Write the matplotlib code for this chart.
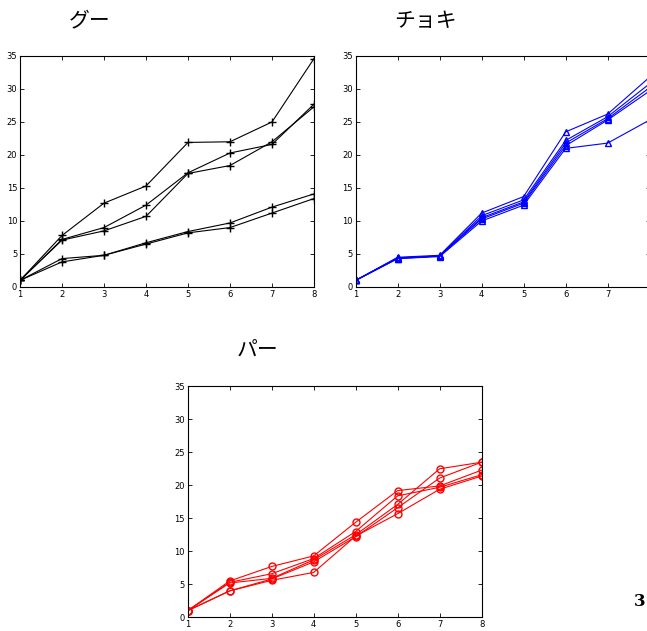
import matplotlib
matplotlib.use("Agg")
import matplotlib.pyplot as plt

plt.rcParams['font.family'] = ['Noto Sans CJK JP', 'DejaVu Sans']

x = [1, 2, 3, 4, 5, 6, 7, 8]

# グー (black, +)
gu = [
    [1, 7.8, 12.7, 15.3, 21.9, 22.0, 25.0, 34.6],
    [1, 7.2, 9.0, 12.4, 17.3, 20.3, 21.6, 27.7],
    [1, 7.1, 8.5, 10.7, 17.2, 18.4, 22.0, 27.3],
    [1, 4.3, 4.8, 6.7, 8.4, 9.7, 12.1, 14.1],
    [1, 3.8, 4.8, 6.5, 8.2, 9.0, 11.2, 13.4],
]

# チョキ (blue, triangles)
choki = [
    [1, 4.5, 4.8, 11.2, 13.7, 23.5, 26.2, 31.8],
    [1, 4.4, 4.7, 10.8, 13.2, 22.2, 25.8, 30.8],
    [1, 4.4, 4.7, 10.5, 12.9, 21.8, 25.5, 30.2],
    [1, 4.3, 4.7, 10.3, 12.7, 21.4, 25.3, 29.7],
    [1, 4.3, 4.6, 10.0, 12.4, 21.0, 21.8, 25.3],
]

# パー (red, circles)
pa = [
    [1, 5.5, 7.7, 9.3, 14.4, 19.2, 19.9, 22.3],
    [1, 5.3, 6.6, 8.9, 13.0, 18.4, 19.7, 21.6],
    [1, 5.2, 5.9, 8.7, 12.5, 17.1, 22.5, 23.5],
    [1, 4.0, 5.8, 8.4, 12.2, 16.6, 21.1, 23.5],
    [1, 4.0, 5.6, 6.8, 12.3, 15.7, 19.4, 21.4],
]

titles = ['グー', 'チョキ', 'パー']
yticks = [0, 5, 10, 15, 20, 25, 30, 35]

fig = plt.figure(figsize=(6.47, 6.31), dpi=100)
ax1 = fig.add_axes([0.0309, 0.5452, 0.4544, 0.3661])
ax2 = fig.add_axes([0.5497, 0.5452, 0.4544, 0.3661])
ax3 = fig.add_axes([0.2900, 0.0217, 0.4544, 0.3661])

for s in gu:
    ax1.plot(x, s, color='black', marker='+', markersize=5.5, linewidth=0.8)
for s in choki:
    ax2.plot(x, s, color='blue', marker='^', markersize=5, markerfacecolor='none',
             linewidth=0.8)
for s in pa:
    ax3.plot(x, s, color='red', marker='o', markersize=5, markerfacecolor='none',
             linewidth=0.8)

for ax, t in zip([ax1, ax2, ax3], titles):
    ax.set_xlim(1, 8)
    ax.set_ylim(0, 35)
    ax.set_xticks(x)
    ax.set_yticks(yticks)
    ax.tick_params(direction='in', top=True, right=True, length=3, width=0.6,
                   labelsize=6, pad=2)
    for lab in ax.get_xticklabels() + ax.get_yticklabels():
        lab.set_fontfamily('DejaVu Sans')
    for sp in ax.spines.values():
        sp.set_linewidth(0.8)
    ax.text(70 / 294, 1.152, t, transform=ax.transAxes, fontsize=15,
            ha='center', va='center')

fig.text(640 / 647, 1 - 601 / 631, '3', fontsize=12, fontweight='bold',
         family='DejaVu Serif', ha='center', va='center')

fig.savefig('out.png', dpi=100)
